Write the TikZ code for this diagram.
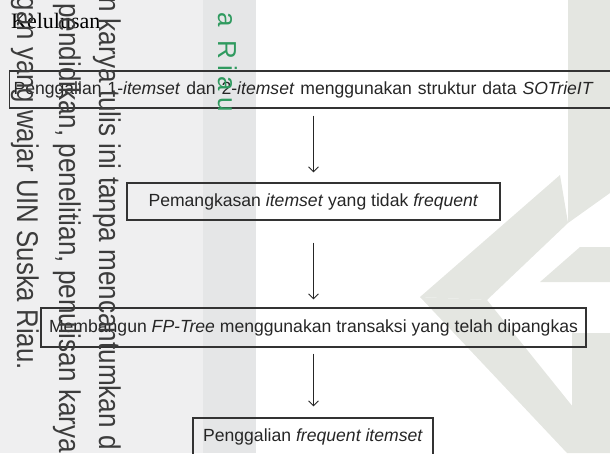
\documentclass[tikz,border=0pt]{standalone}
\usepackage{fontspec}
\usepackage{graphicx}
\usetikzlibrary{arrows.meta}
\newfontfamily\boxfont{Liberation Sans}
\newfontfamily\kfont{Liberation Serif}
\newfontfamily\wmfont{Liberation Sans}
\definecolor{bandA}{HTML}{EFEFF0}
\definecolor{bandB}{HTML}{E5E6E7}
\definecolor{chev}{HTML}{E4E6E1}
\definecolor{wmgrey}{HTML}{3C3C3C}
\definecolor{wmgreen}{HTML}{2F9A5F}
\definecolor{boxline}{HTML}{333333}
\definecolor{boxtext}{HTML}{262626}
\tikzset{
  stepbox/.style={draw=boxline, line width=1.1pt, text=boxtext, inner ysep=0pt,
    minimum height=37pt, font=\boxfont\fontsize{17.6}{20}\selectfont},
  flowarrow/.style={draw=black!85, line width=0.9pt, -{Straight Barb[length=5pt,width=10pt]}},
  wmtext/.style={text=wmgrey, rotate=-90, inner sep=0pt, font=\wmfont\fontsize{30}{32}\selectfont},
}
\begin{document}
\begin{tikzpicture}[x=1pt,y=-1pt]
\useasboundingbox (0,0) rectangle (610,453);
% background watermark areas
\fill[bandA] (0,0) rectangle (203,453);
\fill[bandB] (203,0) rectangle (256,453);
\fill[chev] (568,0) -- (610,0) -- (610,193) -- (568,223) -- cycle;
\fill[chev] (420,297) -- (560,175) -- (568,223) -- (487,300) -- cycle;
\fill[chev] (420,297) -- (487,300) -- (610,453) -- (567,453) -- cycle;
\fill[chev] (540,282) -- (580,247) -- (610,247) -- (610,282) -- cycle;
\fill[chev] (572,333) -- (610,333) -- (610,453) -- (572,453) -- cycle;

% title
\node[anchor=base west, inner sep=0pt, font=\kfont\fontsize{22}{24}\selectfont] (title) at (11,28) {Kelulusan};

% flow boxes
\node[stepbox, anchor=west, text width=594pt, inner xsep=4pt, align=left] (b1) at (9,89.5)
  {Penggalian 1-\textit{itemset} dan 2-\textit{itemset} menggunakan struktur data \textit{SOTrieIT}};
\node[stepbox, minimum width=373pt] (b2) at (313.5,201.5)
  {Pemangkasan \textit{itemset} yang tidak \textit{frequent}};
\node[stepbox, minimum width=545pt, minimum height=39pt] (b3) at (313.5,327.5)
  {Membangun \textit{FP-Tree} menggunakan transaksi yang telah dipangkas};
\node[stepbox, minimum width=240pt] (b4) at (313,436.5)
  {Penggalian \textit{frequent itemset}};

\draw[flowarrow, shorten <=7pt, shorten >=10pt] (b2.north |- b1.south) -- (b2.north);
\draw[flowarrow, shorten <=22pt, shorten >=8pt] (b2.south) -- (b2.south |- b3.north);
\draw[flowarrow, shorten <=6pt, shorten >=11pt] (b2.south |- b3.south) -- (b2.south |- b4.north);

% watermark text (rotated)
\node[wmtext, anchor=base east] (wm1) at (17,370) {\scalebox{0.86}[1]{gan yang wajar UIN Suska Riau.}};
\node[wmtext, anchor=base west] (wm2) at (59,3) {\scalebox{0.87}[1]{pendidikan, penelitian, penulisan karya}};
\node[wmtext, anchor=base west] (wm3) at (99,-3) {\scalebox{0.87}[1]{n karya tulis ini tanpa mencantumkan d}};
\node[wmtext, text=wmgreen, anchor=base east, font=\wmfont\fontsize{26}{28}\selectfont] (wm4) at (218,112)
  {a\kern6pt\ R\kern6pt i\kern6pt a\kern6pt u};
\end{tikzpicture}
\end{document}
